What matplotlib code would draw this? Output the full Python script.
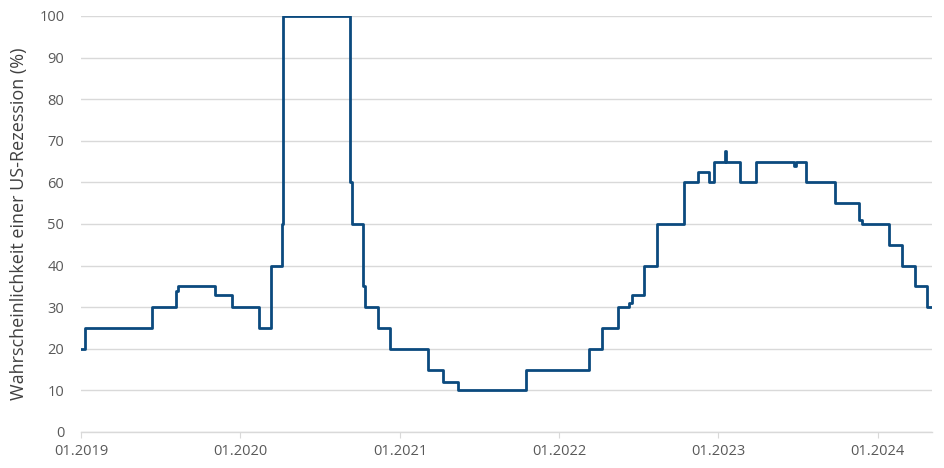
import matplotlib
matplotlib.use("Agg")
import matplotlib.pyplot as plt
import matplotlib.dates as mdates
import pandas as pd

# change points of the step series (date from which a value holds)
change_dates = ["2019-01-01", "2019-01-10", "2019-06-12", "2019-08-06", "2019-08-12",
                "2019-11-05", "2019-12-12", "2020-02-12", "2020-03-12", "2020-04-06",
                "2020-04-08", "2020-09-09", "2020-09-13", "2020-10-08", "2020-10-12",
                "2020-11-12", "2020-12-09", "2021-03-06", "2021-04-09", "2021-05-14",
                "2021-10-17", "2022-03-11", "2022-04-09", "2022-05-16", "2022-06-10",
                "2022-06-17", "2022-07-15", "2022-08-13", "2022-10-14", "2022-11-15",
                "2022-12-11", "2022-12-22", "2023-01-17", "2023-01-19", "2023-02-20",
                "2023-03-29", "2023-06-24", "2023-06-27", "2023-07-21", "2023-09-26",
                "2023-11-20", "2023-11-27", "2024-01-26", "2024-02-25", "2024-03-26",
                "2024-04-22", "2024-05-04"]
probability = [20, 25, 30, 34, 35,
               33, 30, 25, 40, 50,
               100, 60, 50, 35, 30,
               25, 20, 15, 12, 10,
               15, 20, 25, 30, 31,
               33, 40, 50, 60, 62.5,
               60, 65, 67.5, 65, 60,
               65, 64, 65, 60, 55,
               51, 50, 45, 40, 35,
               30, 30]
year_ticks = ["2019-01-01", "2020-01-01", "2021-01-01", "2022-01-01", "2023-01-01", "2024-01-01"]

dates = pd.to_datetime(change_dates)

plt.rcParams['font.family'] = ['Open Sans', 'DejaVu Sans']
fig = plt.figure(figsize=(9.45, 4.68), dpi=100)
ax = fig.add_axes([0.0857, 0.077, 0.9003, 0.889])

ax.step(dates, probability, where='post', color='#0b4a7e', linewidth=2.0)

ax.set_xlim(dates[0], dates[-1])
ax.set_ylim(0, 100)
ax.set_yticks(range(0, 101, 10))
ax.set_xticks(pd.to_datetime(year_ticks))
ax.xaxis.set_major_formatter(mdates.DateFormatter('%m.%Y'))

ax.grid(axis='y', color='#d9d9d9', linewidth=1.0)
ax.set_axisbelow(True)
for s in ['top', 'right', 'left']:
    ax.spines[s].set_visible(False)
ax.spines['bottom'].set_color('#d9d9d9')
ax.spines['bottom'].set_linewidth(1.0)

ax.tick_params(axis='y', length=0, pad=12, labelsize=10.5, labelcolor='#595959')
ax.tick_params(axis='x', length=4, color='#d9d9d9', pad=5, labelsize=10.5, labelcolor='#595959')
ax.set_ylabel('Wahrscheinlichkeit einer US-Rezession (%)', fontsize=13, color='#404040', labelpad=8)

fig.savefig('out.png', dpi=100)
